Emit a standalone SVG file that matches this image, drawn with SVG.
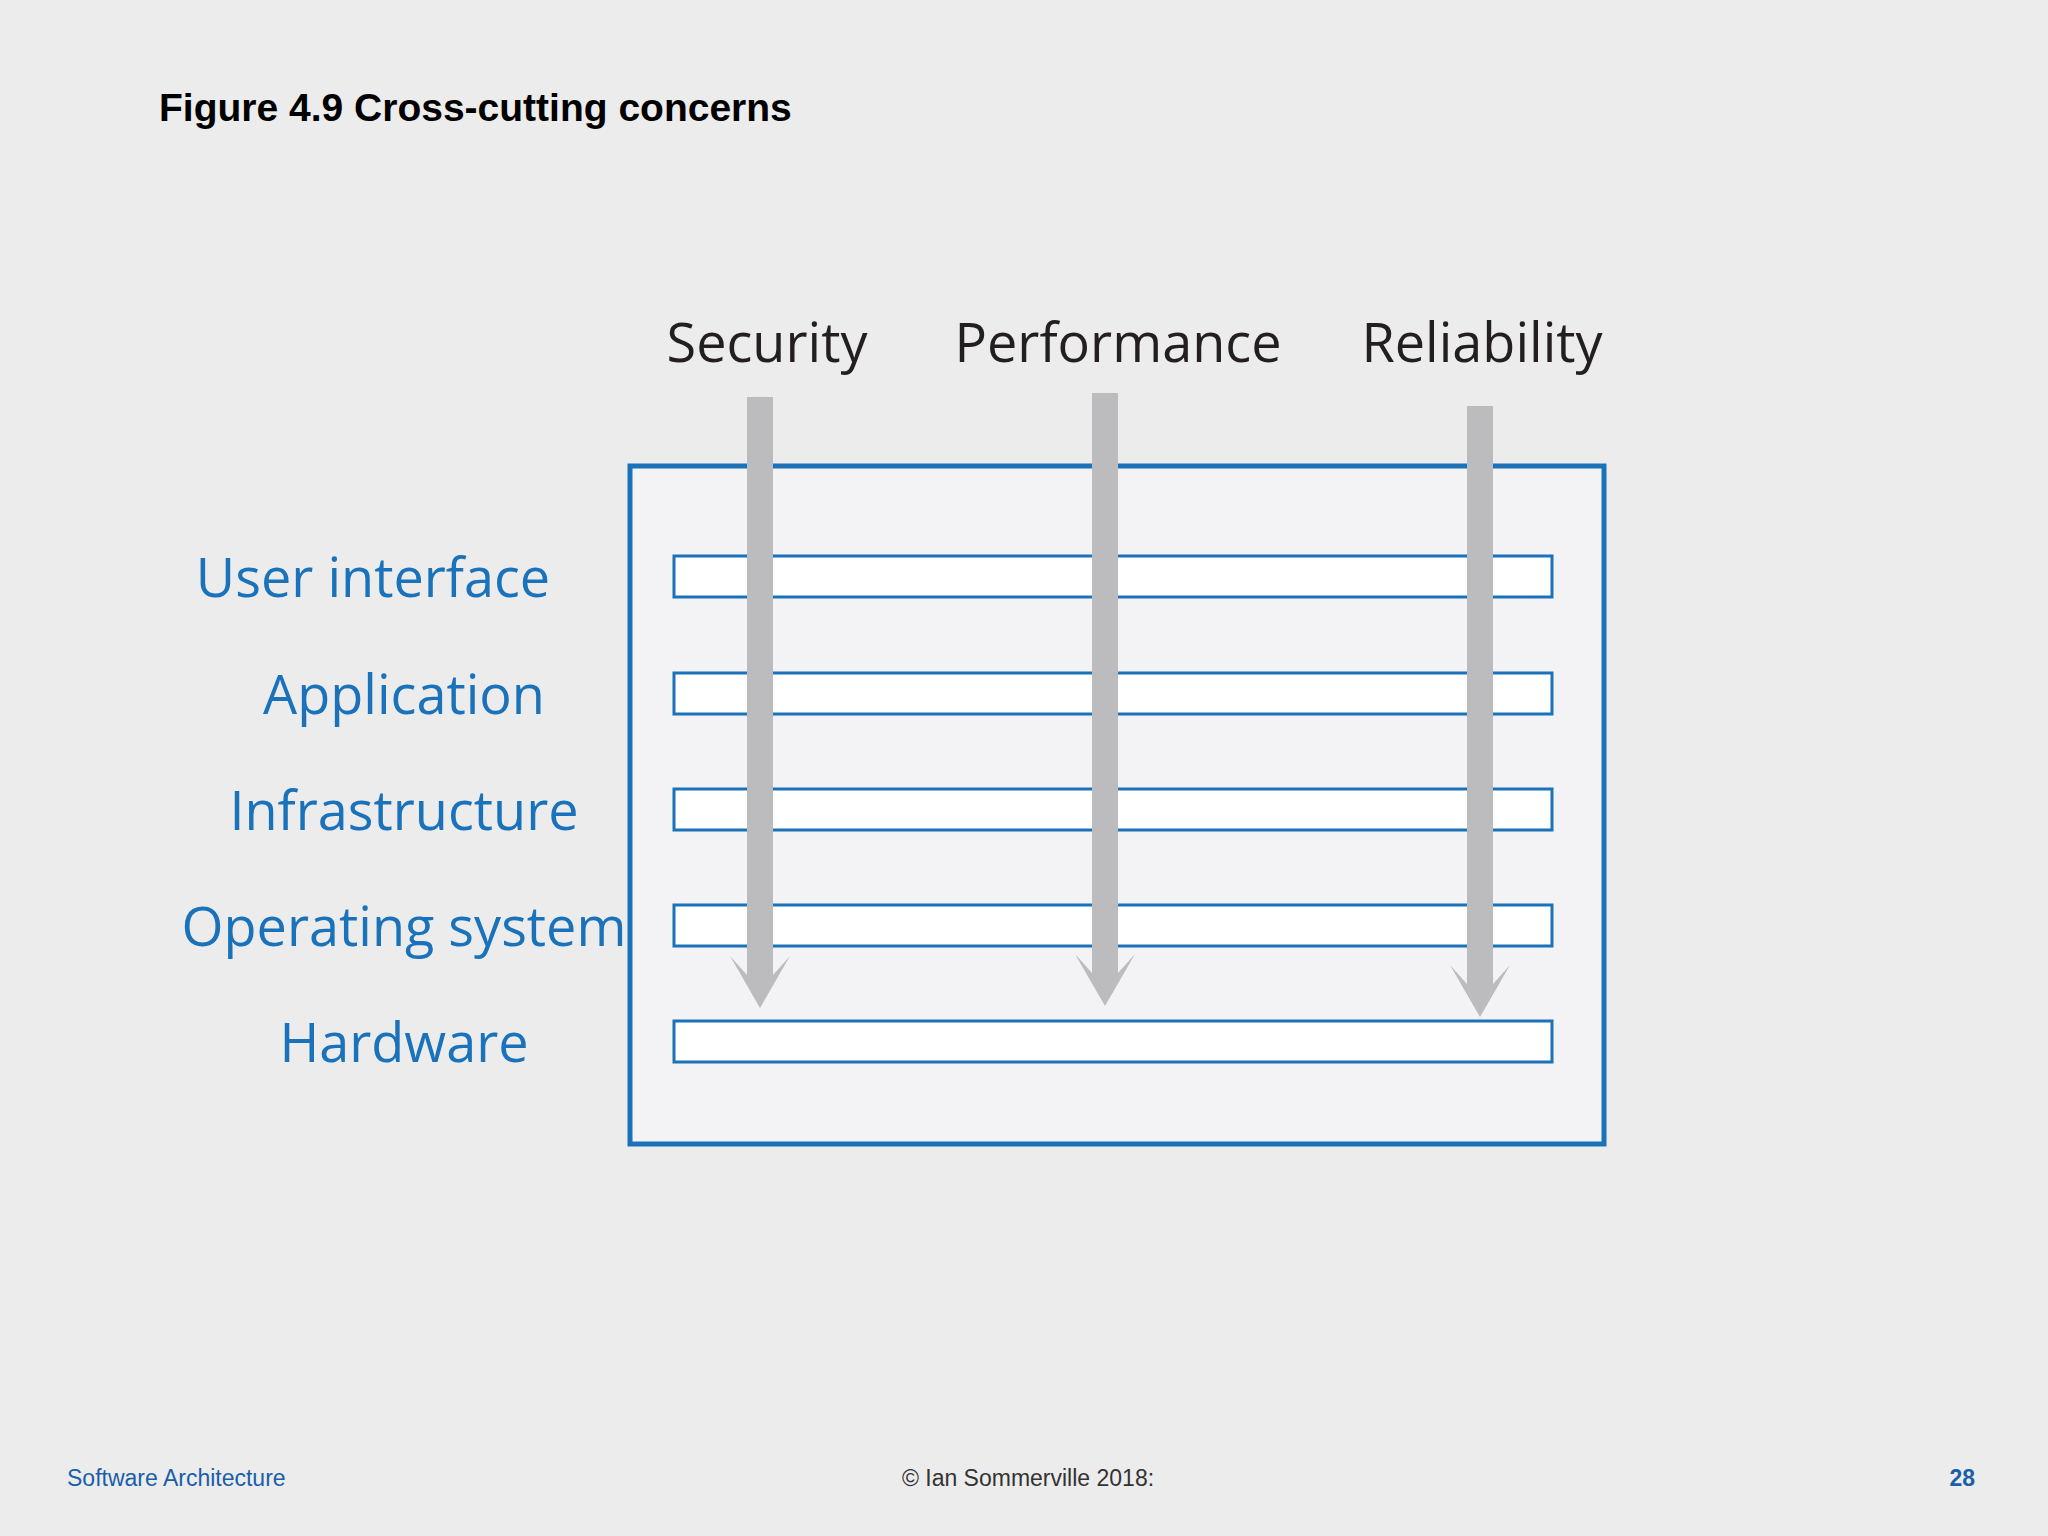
<svg xmlns="http://www.w3.org/2000/svg" width="2048" height="1536" viewBox="0 0 2048 1536">
<style>
.layer{fill:#fff;stroke:#1a72bb;stroke-width:3}
.lbl{font-family:"Open Sans","Noto Sans",sans-serif;font-size:54px;fill:#1a72bb;text-anchor:middle}
.con{font-family:"Open Sans","Noto Sans",sans-serif;font-size:54px;fill:#231f20;text-anchor:middle}
.shaft{fill:#bcbcbe}
.foot{font-family:"Liberation Sans",Arial,sans-serif;font-size:23px}
</style>
<rect width="2048" height="1536" fill="#ececec"/>
<text x="159" y="121" font-family="Liberation Sans,Arial,sans-serif" font-weight="bold" font-size="39" fill="#000">Figure 4.9 Cross-cutting concerns</text>
<g id="system"><rect x="630" y="466" width="974" height="678" fill="#f3f3f5" stroke="#1a72bb" stroke-width="5"/></g>
<g id="layers">
<g id="ui"><rect class="layer" x="674" y="556" width="878" height="41"/><text class="lbl" x="373" y="597">User interface</text></g>
<g id="app"><rect class="layer" x="674" y="673" width="878" height="41"/><text class="lbl" x="404" y="714">Application</text></g>
<g id="infra"><rect class="layer" x="674" y="789" width="878" height="41"/><text class="lbl" x="404" y="830">Infrastructure</text></g>
<g id="os"><rect class="layer" x="674" y="905" width="878" height="41"/><text class="lbl" x="404" y="946">Operating system</text></g>
<g id="hw"><rect class="layer" x="674" y="1021" width="878" height="41"/><text class="lbl" x="404" y="1062">Hardware</text></g>
</g>
<g id="connectors">
<g id="security"><text class="con" x="767" y="362">Security</text><path class="shaft" d="M747 397H773V975L790 956L760 1008L730 956L747 975Z"/></g>
<g id="performance"><text class="con" x="1118" y="362">Performance</text><path class="shaft" d="M1092 393H1118V973L1135 954L1105 1006L1075 954L1092 973Z"/></g>
<g id="reliability"><text class="con" x="1482" y="362">Reliability</text><path class="shaft" d="M1467 406H1493V984L1510 965L1480 1017L1450 965L1467 984Z"/></g>
</g>
<text class="foot" x="67" y="1486" fill="#1a5fa8">Software Architecture</text>
<text class="foot" x="1028" y="1486" fill="#333" text-anchor="middle">© Ian Sommerville 2018:</text>
<text class="foot" x="1975" y="1486" fill="#1a5fa8" font-weight="bold" text-anchor="end">28</text>
</svg>
